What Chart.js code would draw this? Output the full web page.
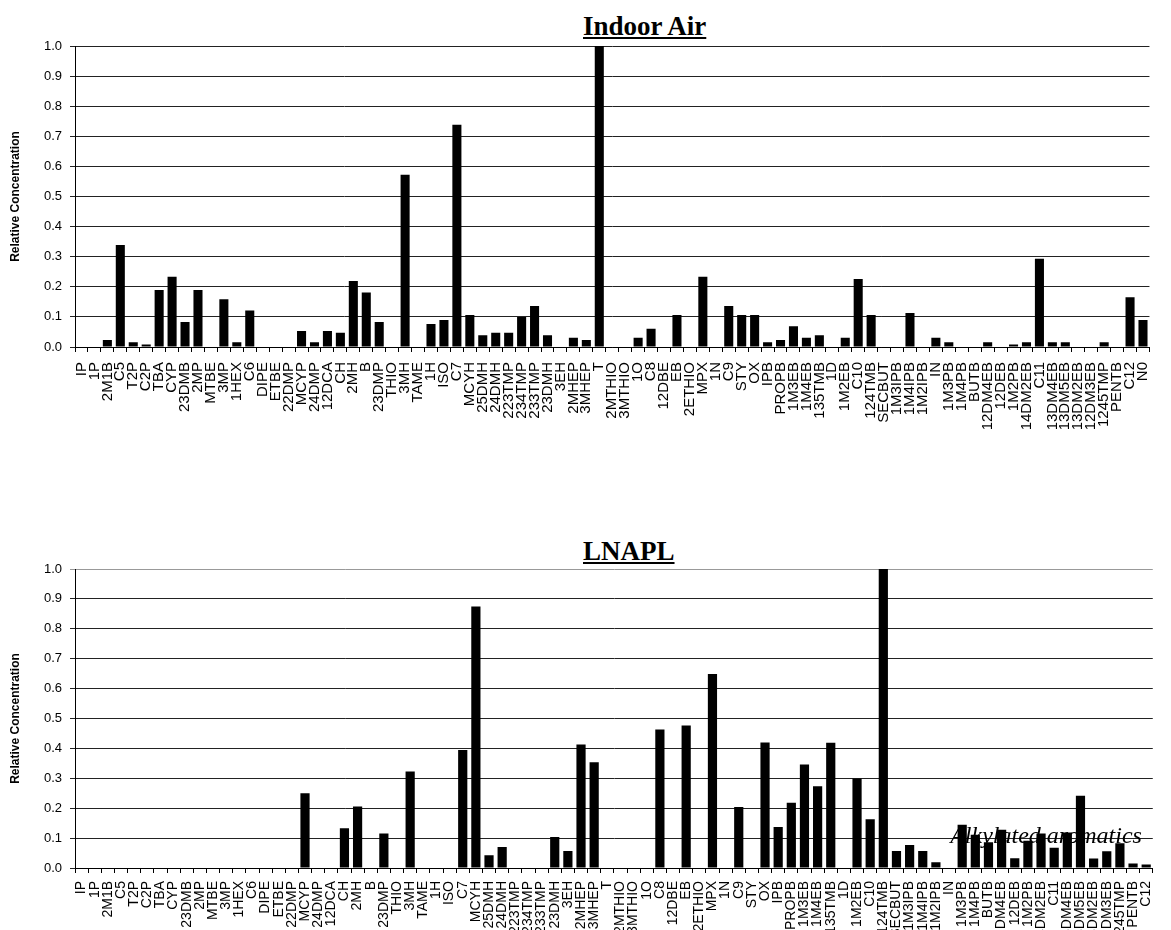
<!DOCTYPE html>
<html>
<head>
<meta charset="utf-8">
<script src="https://cdn.jsdelivr.net/npm/chart.js@4.4.1/dist/chart.umd.min.js"></script>
<style>
  body { margin: 0; background: #fff; width: 1171px; height: 930px; overflow: hidden; position: relative; }
  .title { position: absolute; white-space: nowrap; line-height: 1; font: bold 27px "Liberation Serif", "Times New Roman", serif; text-decoration: underline; color: #000; }
  canvas { position: absolute; left: 0; }
</style>
</head>
<body>
<div class="title" style="top:11px; left:583px">Indoor Air</div>
<div class="title" style="top:536px; left:583px">LNAPL</div>
<canvas id="indoor" width="1171" height="455" style="top:0"></canvas>
<canvas id="lnapl" width="1171" height="460" style="top:470px"></canvas>
<script>
const indoorLabels = ['IP','1P','2M1B','C5','T2P','C2P','TBA','CYP','23DMB','2MP','MTBE','3MP','1HEX','C6','DIPE','ETBE','22DMP','MCYP','24DMP','12DCA','CH','2MH','B','23DMP','THIO','3MH','TAME','1H','ISO','C7','MCYH','25DMH','24DMH','223TMP','234TMP','233TMP','23DMH','3EH','2MHEP','3MHEP','T','2MTHIO','3MTHIO','1O','C8','12DBE','EB','2ETHIO','MPX','1N','C9','STY','OX','IPB','PROPB','1M3EB','1M4EB','135TMB','1D','1M2EB','C10','124TMB','SECBUT','1M3IPB','1M4IPB','1M2IPB','IN','1M3PB','1M4PB','BUTB','12DM4EB','12DEB','1M2PB','14DM2EB','C11','13DM4EB','13DM5EB','13DM2EB','12DM3EB','1245TMP','PENTB','C12','N0'];
const indoorValues = [0,0,0.023,0.339,0.016,0.008,0.189,0.233,0.083,0.189,0,0.159,0.016,0.121,0,0,0,0.053,0.016,0.053,0.047,0.219,0.181,0.083,0,0.572,0,0.076,0.09,0.738,0.106,0.039,0.047,0.047,0.1,0.136,0.039,0,0.031,0.023,1.0,0,0,0.031,0.061,0,0.106,0,0.233,0,0.136,0.106,0.106,0.016,0.023,0.069,0.031,0.039,0,0.031,0.226,0.106,0,0,0.113,0,0.031,0.016,0,0,0.016,0,0.008,0.016,0.293,0.016,0.016,0,0,0.016,0,0.165,0.09];

const lnaplLabels = indoorLabels.slice(0, 82);
const lnaplValues = [0,0,0,0,0,0,0,0,0,0,0,0,0,0,0,0,0,0.25,0,0,0.133,0.206,0,0.115,0,0.323,0,0,0,0.395,0.875,0.043,0.07,0,0,0,0.104,0.057,0.413,0.354,0,0,0,0,0.463,0,0.477,0,0.649,0,0.204,0,0.42,0.137,0.218,0.346,0.273,0.419,0,0.299,0.163,1.0,0.057,0.077,0.057,0.019,0,0.145,0.111,0.086,0.128,0.033,0.091,0.115,0.068,0.119,0.242,0.032,0.056,0.083,0.015,0.012];

const yTicks = [0,0.1,0.2,0.3,0.4,0.5,0.6,0.7,0.8,0.9,1.0];

const SANS = '"Liberation Sans", Arial, sans-serif';

// italic note drawn at a category/value position on the LNAPL chart
const notePlugin = {
  id: 'note',
  afterDatasetsDraw(chart, args, opts) {
    if (!opts.text) return;
    const { ctx, scales } = chart;
    const x = scales.x.getPixelForValue(opts.at) - 12;
    const y = scales.y.getPixelForValue(opts.y);
    ctx.save();
    ctx.font = 'italic 24px "Liberation Serif", "Times New Roman", serif';
    ctx.fillStyle = '#000';
    ctx.textBaseline = 'alphabetic';
    ctx.fillText(opts.text, x, y);
    ctx.restore();
  }
};

function makeChart(id, labels, values, opt) {
  return new Chart(document.getElementById(id), {
    type: 'bar',
    data: {
      labels: labels,
      datasets: [{
        data: values,
        backgroundColor: '#000',
        borderWidth: 0,
        barPercentage: 0.7,
        categoryPercentage: 1.0,
      }],
    },
    options: {
      responsive: false,
      animation: false,
      layout: { padding: { top: opt.top, right: 1, left: 0, bottom: 0 } },
      scales: {
        x: {
          grid: { display: true, drawOnChartArea: false, color: '#000', tickLength: 5, offset: true },
          border: { color: '#000' },
          ticks: {
            color: '#000', autoSkip: false, minRotation: 90, maxRotation: 90, padding: opt.labelPad,
            font: { family: SANS, size: opt.labelSize },
          },
          afterFit: s => { s.height = opt.xHeight; },
        },
        y: {
          min: 0, max: 1,
          afterBuildTicks: s => { s.ticks = yTicks.map(v => ({ value: v })); },
          grid: { color: c => (opt.lightTop && c.tick && c.tick.value === 1) ? '#999' : '#222', tickLength: 5 },
          border: { color: '#000' },
          ticks: { color: '#000', padding: 8, font: { family: SANS, size: 13 }, callback: v => v.toFixed(1) },
          title: { display: true, text: 'Relative Concentration', color: '#000', font: { family: SANS, size: 12, weight: 'bold' }, padding: 8 },
          afterFit: s => { s.width = 75; },
        },
      },
      plugins: {
        legend: { display: false },
        tooltip: { enabled: false },
        note: opt.note || {},
      },
    },
    plugins: [notePlugin],
  });
}

makeChart('indoor', indoorLabels, indoorValues, { top: 46, xHeight: 108, labelSize: 15, labelPad: 10 });
makeChart('lnapl', lnaplLabels, lnaplValues, {
  top: 99, xHeight: 62, labelSize: 14, labelPad: 8, lightTop: true,
  note: { text: 'Alkylated aromatics', at: 67, y: 0.085 },
});
</script>
</body>
</html>
